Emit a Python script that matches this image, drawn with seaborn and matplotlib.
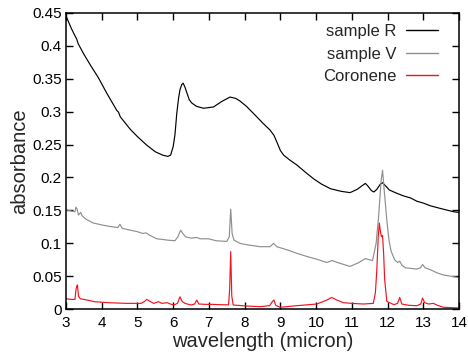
import matplotlib
matplotlib.use("Agg")
import matplotlib.pyplot as plt
import seaborn as sns
import pandas as pd

series_names = ["sample R", "sample V", "Coronene"]
series_colors = ["#000000", "#8f8f8f", "#f0141e"]

sample_R = [
    (3.0, 0.445), (3.15, 0.426), (3.27, 0.413), (3.3, 0.410), (3.34, 0.403),
    (3.5, 0.387), (3.7, 0.369), (3.9, 0.352), (4.15, 0.327), (4.42, 0.302),
    (4.47, 0.299), (4.52, 0.292), (4.8, 0.273), (5.0, 0.262), (5.26, 0.249),
    (5.5, 0.239), (5.7, 0.234), (5.85, 0.232), (5.93, 0.234), (6.0, 0.247),
    (6.05, 0.265), (6.1, 0.297), (6.15, 0.320), (6.19, 0.333), (6.24, 0.341),
    (6.28, 0.343), (6.33, 0.337), (6.38, 0.329), (6.45, 0.318), (6.52, 0.313),
    (6.65, 0.308), (6.85, 0.305), (7.13, 0.307), (7.35, 0.315), (7.59, 0.322),
    (7.75, 0.320), (7.87, 0.316), (8.05, 0.308), (8.25, 0.297), (8.5, 0.283),
    (8.71, 0.272), (8.82, 0.264), (8.9, 0.254), (9.0, 0.241), (9.09, 0.234),
    (9.25, 0.227), (9.46, 0.219), (9.7, 0.208), (9.93, 0.198), (10.15, 0.190),
    (10.4, 0.183), (10.7, 0.179), (10.95, 0.177), (11.15, 0.182), (11.3, 0.188),
    (11.38, 0.191), (11.45, 0.187), (11.55, 0.180), (11.62, 0.178), (11.7, 0.182),
    (11.8, 0.190), (11.86, 0.192), (11.95, 0.187), (12.05, 0.181), (12.26, 0.176),
    (12.45, 0.172), (12.64, 0.169), (12.82, 0.164), (13.01, 0.161), (13.2, 0.157),
    (13.48, 0.153), (13.7, 0.150), (13.85, 0.148), (14.0, 0.147),
]

sample_V = [
    (3.0, 0.151), (3.15, 0.149), (3.25, 0.148), (3.28, 0.155), (3.31, 0.152),
    (3.35, 0.143), (3.41, 0.147), (3.45, 0.142), (3.55, 0.137), (3.76, 0.131),
    (4.0, 0.128), (4.2, 0.126), (4.45, 0.124), (4.51, 0.129), (4.57, 0.123),
    (4.8, 0.120), (4.98, 0.118), (5.15, 0.115), (5.24, 0.116), (5.32, 0.113),
    (5.54, 0.107), (5.7, 0.106), (5.83, 0.105), (6.05, 0.104), (6.13, 0.110),
    (6.21, 0.120), (6.27, 0.115), (6.35, 0.110), (6.5, 0.108), (6.66, 0.109),
    (6.75, 0.107), (6.99, 0.107), (7.2, 0.104), (7.5, 0.103), (7.57, 0.110),
    (7.61, 0.152), (7.65, 0.115), (7.7, 0.105), (7.87, 0.100), (8.06, 0.098),
    (8.43, 0.095), (8.71, 0.095), (8.81, 0.100), (8.9, 0.095), (9.2, 0.090),
    (9.46, 0.085), (9.75, 0.080), (10.02, 0.076), (10.3, 0.071), (10.45, 0.074),
    (10.6, 0.071), (10.95, 0.065), (11.2, 0.071), (11.38, 0.077), (11.5, 0.075),
    (11.58, 0.074), (11.68, 0.100), (11.75, 0.141), (11.82, 0.195), (11.86, 0.211),
    (11.9, 0.185), (11.98, 0.135), (12.04, 0.105), (12.1, 0.088), (12.2, 0.075),
    (12.28, 0.071), (12.34, 0.073), (12.4, 0.067), (12.5, 0.063), (12.82, 0.061),
    (12.92, 0.063), (12.98, 0.068), (13.05, 0.063), (13.2, 0.060), (13.4, 0.055),
    (13.57, 0.052), (13.8, 0.050), (14.0, 0.048),
]

coronene = [
    (3.0, 0.016), (3.15, 0.015), (3.25, 0.015), (3.28, 0.030), (3.3, 0.035),
    (3.32, 0.037), (3.35, 0.020), (3.4, 0.016), (3.6, 0.014), (3.8, 0.0115),
    (4.2, 0.010), (4.7, 0.009), (5.1, 0.009), (5.2, 0.012), (5.26, 0.015),
    (5.32, 0.013), (5.45, 0.009), (5.59, 0.0115), (5.68, 0.009), (5.83, 0.010),
    (5.92, 0.008), (6.02, 0.0065), (6.12, 0.009), (6.19, 0.019), (6.25, 0.012),
    (6.33, 0.009), (6.5, 0.0065), (6.6, 0.008), (6.66, 0.014), (6.72, 0.008),
    (6.9, 0.0075), (7.1, 0.0075), (7.3, 0.007), (7.55, 0.0068), (7.58, 0.030),
    (7.61, 0.0875), (7.64, 0.020), (7.68, 0.0065), (8.06, 0.005), (8.43, 0.004),
    (8.7, 0.0055), (8.78, 0.012), (8.82, 0.014), (8.87, 0.006), (9.0, 0.003),
    (9.46, 0.0055), (10.02, 0.008), (10.3, 0.014), (10.44, 0.018), (10.58, 0.014),
    (10.77, 0.010), (11.0, 0.009), (11.32, 0.008), (11.6, 0.009), (11.66, 0.025),
    (11.7, 0.060), (11.74, 0.110), (11.77, 0.131), (11.80, 0.118), (11.83, 0.110),
    (11.86, 0.112), (11.89, 0.085), (11.92, 0.045), (11.98, 0.012), (12.18, 0.007),
    (12.28, 0.009), (12.34, 0.018), (12.4, 0.008), (12.6, 0.006), (12.82, 0.0055),
    (12.93, 0.008), (12.98, 0.017), (13.04, 0.010), (13.15, 0.008), (13.28, 0.009),
    (13.4, 0.006), (13.57, 0.003), (13.8, 0.0025), (14.0, 0.002),
]

x_ticks = [3, 4, 5, 6, 7, 8, 9, 10, 11, 12, 13, 14]
y_ticks = [0, 0.05, 0.1, 0.15, 0.2, 0.25, 0.3, 0.35, 0.4, 0.45]
y_tick_labels = ["0", "0.05", "0.1", "0.15", "0.2", "0.25", "0.3", "0.35", "0.4", "0.45"]

frames = []
for name, pts in zip(series_names, [sample_R, sample_V, coronene]):
    d = pd.DataFrame(pts, columns=["wavelength", "absorbance"])
    d["series"] = name
    frames.append(d)
df = pd.concat(frames, ignore_index=True)

sns.set_theme(style="ticks")
plt.rcParams["font.family"] = ["Liberation Sans", "DejaVu Sans"]
plt.rcParams["axes.edgecolor"] = "black"

fig = plt.figure(figsize=(4.68, 3.53), dpi=100)
ax = fig.add_axes([66 / 468, 1 - 309.3 / 353, (459 - 66) / 468, (309.3 - 12.7) / 353])

sns.lineplot(data=df, x="wavelength", y="absorbance", hue="series",
             hue_order=series_names, palette=dict(zip(series_names, series_colors)),
             estimator=None, sort=False, linewidth=0.85, ax=ax)

ax.set_xlim(3, 14)
ax.set_ylim(0, 0.45)
ax.set_xticks(x_ticks)
ax.set_xticklabels([str(t) for t in x_ticks])
ax.set_yticks(y_ticks)
ax.set_yticklabels(y_tick_labels)
ax.tick_params(direction="in", top=True, right=True, length=5, width=1,
               labelsize=11, colors="black")
ax.tick_params(axis="x", pad=5)
ax.tick_params(axis="y", pad=3)
for s in ax.spines.values():
    s.set_linewidth(1.1)
    s.set_color("black")

ax.set_xlabel("wavelength (micron)", fontsize=14.5, labelpad=1)
ax.set_ylabel("absorbance", fontsize=14.5, labelpad=2)

handles, labels = ax.get_legend_handles_labels()
leg = ax.legend(handles, labels, markerfirst=False, frameon=False, loc="upper right",
                bbox_to_anchor=(0.9636, 0.984), borderaxespad=0.0,
                fontsize=12, handlelength=1.95, labelspacing=0.45, handletextpad=0.55)
for line in leg.get_lines():
    line.set_linewidth(1.0)

fig.savefig("out.png", dpi=100)
